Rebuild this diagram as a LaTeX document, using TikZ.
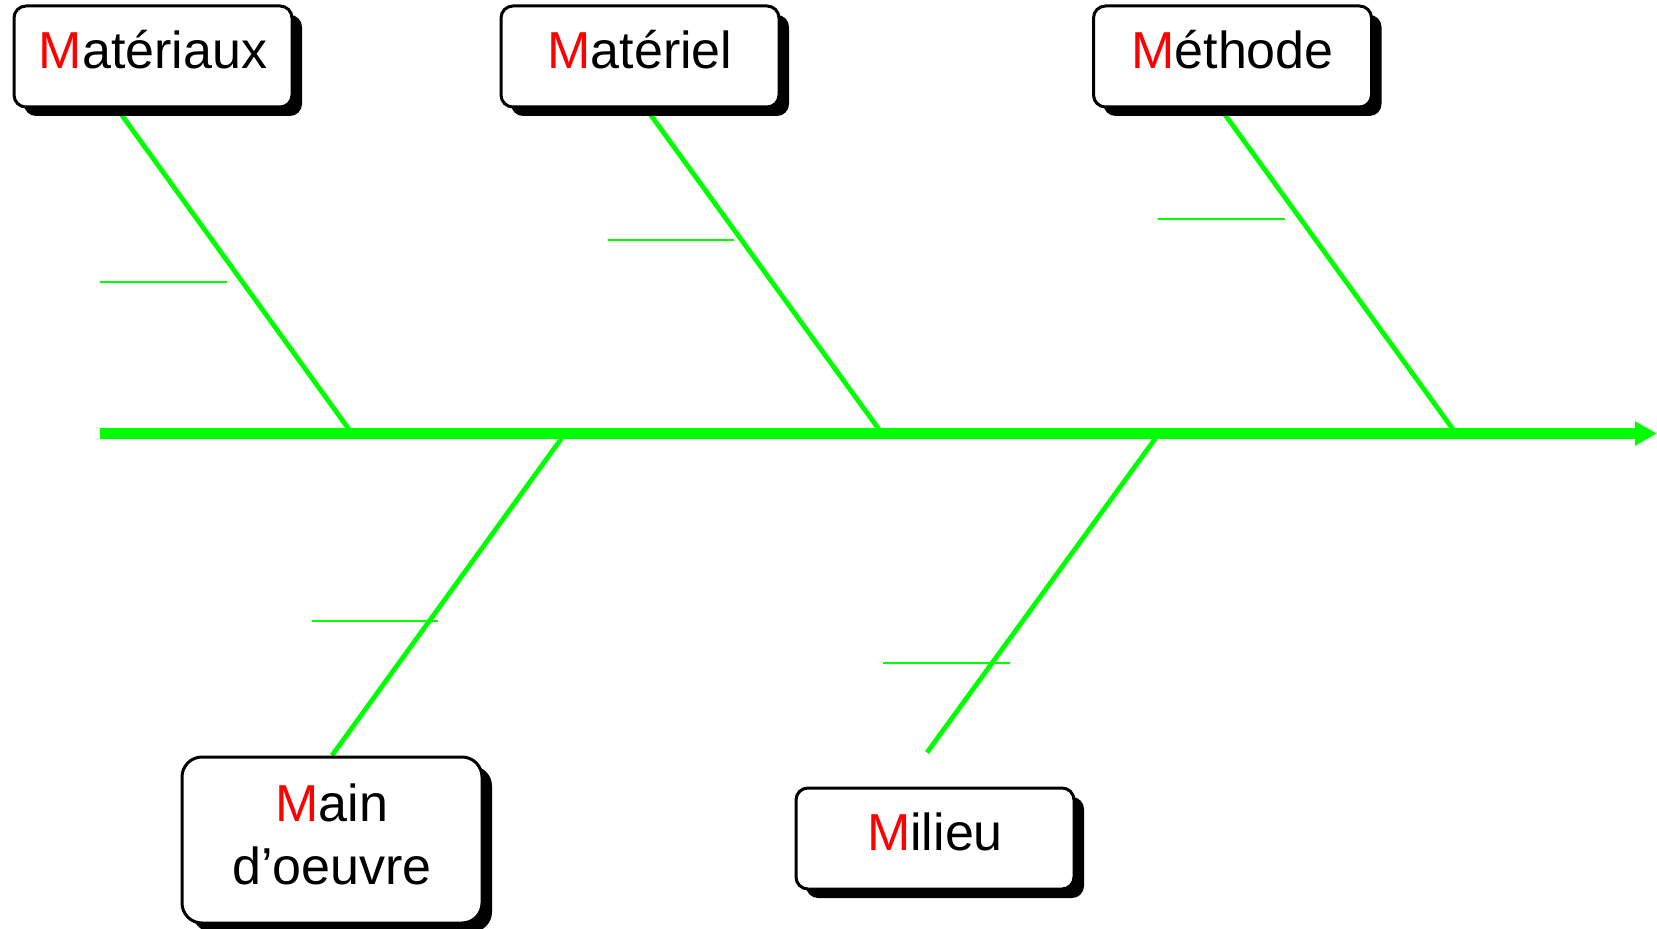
\documentclass[tikz,border=0pt]{standalone}
\usepackage{fontspec}
\setmainfont{Liberation Sans}
\usepackage{tikz}
\usetikzlibrary{arrows.meta,shadows,backgrounds}
\definecolor{fishgreen}{RGB}{0,255,0}
\newcommand{\redM}{\textcolor{red}{M}}

\begin{document}
\begin{tikzpicture}[x=0.5pt,y=-0.5pt,
  causebox/.style={draw=black, line width=1.5pt, fill=white, rounded corners=6pt,
    minimum width=139pt, minimum height=50.5pt, inner sep=0pt,
    font=\fontsize{26}{31.5}\selectfont, text height=18.6pt, text depth=7pt,
    drop shadow={shadow xshift=5pt, shadow yshift=-4.5pt, fill=black, opacity=1}},
  spine/.style={draw=fishgreen, line width=5.5pt, -{Triangle[length=11pt,width=11.5pt]}},
  branch/.style={draw=fishgreen, line width=2.4pt},
  subcause/.style={draw=fishgreen, line width=1pt}]
  \useasboundingbox (0,0) rectangle (1657,929);

  \node[causebox] (materiaux) at (153,56.5) {\redM at\'eriaux};
  \node[causebox] (materiel)  at (640,56.5) {\redM at\'eriel};
  \node[causebox] (methode)   at (1232.5,56.5) {\redM \'ethode};
  \node[causebox, minimum width=150pt, minimum height=83pt, rounded corners=10pt,
    text height=0pt, text depth=19pt] (mainoeuvre) at (332,840)
    {\begin{tabular}[t]{@{}c@{}}\redM ain\\d’oeuvre\end{tabular}};
  \node[causebox] (milieu) at (935,838.5) {\redM ilieu};

  \coordinate (tail) at (100,433.5);
  \coordinate (head) at (1657,433.5);
  \coordinate (j1) at (352,433.5);
  \coordinate (j2) at (882,433.5);
  \coordinate (j3) at (1456,433.5);
  \coordinate (j4) at (565,433.5);
  \coordinate (j5) at (1159,433.5);

  \begin{pgfonlayer}{background}
    \draw[spine] (tail) -- (head);
    \draw[branch] ([xshift=-18pt]materiaux.south) -- (j1);
    \draw[branch] ([xshift=3pt]materiel.south) -- (j2);
    \draw[branch] ([xshift=-6pt]methode.south) -- (j3);
    \draw[branch] (j4) -- (mainoeuvre.north);
    \draw[branch] (j5) -- ([xshift=-4pt,yshift=17pt]milieu.north);
    % petites causes
    \foreach \xa/\xb/\yy in {100/227/282, 608/734/240, 1158/1285/219, 312/438/620.5, 883/1010/663}
      \draw[subcause] (\xa,\yy) -- (\xb,\yy);
  \end{pgfonlayer}
\end{tikzpicture}
\end{document}
